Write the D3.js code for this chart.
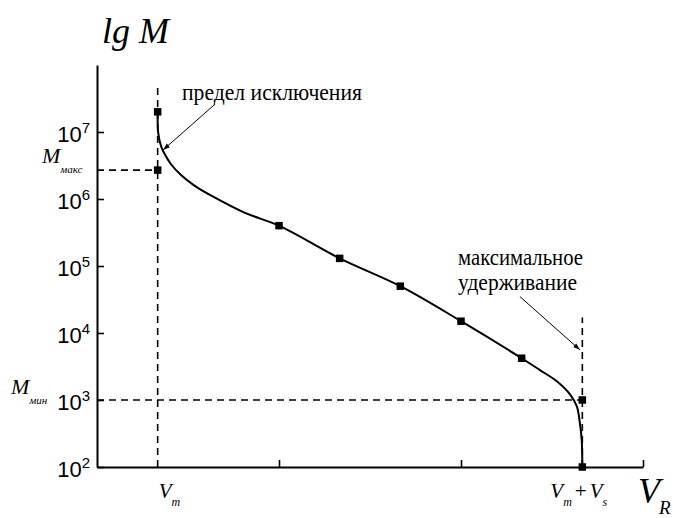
<!DOCTYPE html>
<html>
<head>
<meta charset="utf-8">
<script src="https://cdn.jsdelivr.net/npm/d3@7"></script>
<style>
  html, body { margin: 0; padding: 0; background: #fff; }
  svg { display: block; }
</style>
</head>
<body>
<svg id="chart" width="673" height="518"></svg>
<script>
// Elution volume (relative units) and molecular mass along the calibration curve
const curveV = [1.00, 1.01, 1.06, 1.12, 1.22, 1.38, 1.60, 1.90, 2.44, 3.00, 4.00, 5.00, 6.00, 7.00, 7.30, 7.58, 7.80, 7.91, 7.96, 7.99, 8.00];
const curveM = [2.0e7, 9.5e6, 6.0e6, 4.6e6, 3.3e6, 2.3e6, 1.6e6, 1.1e6, 6.2e5, 4.0e5, 1.3e5, 5.0e4, 1.5e4, 4.2e3, 2.8e3, 1.9e3, 1.2e3, 800, 450, 250, 100];

// Calibration standards (square markers)
const pointV = [1, 1, 3, 4, 5, 6, 7, 8, 8];
const pointM = [2.0e7, 2.7e6, 4.0e5, 1.3e5, 5.0e4, 1.5e4, 4.2e3, 1.0e3, 1.0e2];

// Characteristic values
const Vm = 1, VmVs = 8;
const Mmax = 2.7e6, Mmin = 1.0e3;

// Axis ticks
const yTickExp = [2, 3, 4, 5, 6, 7];
const xTicks = [3, 6, 9];

// Annotation labels and arrow endpoints [V, M]
const noteLabels = ["предел исключения", "максимальное", "удерживание"];
const arrowExclusion = [[1.945, 2.6e7], [1.09, 5.4e6]];
const arrowRetention = [[6.97, 3.5e4], [7.96, 5.6e3]];

const SERIF = "Liberation Serif";
const SANS = "Liberation Sans";

const svg = d3.select("#chart");
const x = d3.scaleLinear().domain([0, 9]).range([97, 643]);
const y = d3.scaleLog().domain([1e2, 1e8]).range([467, 65]);

svg.append("defs").append("marker")
  .attr("id", "arrowhead")
  .attr("viewBox", "0 0 10 10")
  .attr("refX", 10).attr("refY", 5)
  .attr("markerWidth", 7).attr("markerHeight", 7)
  .attr("markerUnits", "userSpaceOnUse")
  .attr("orient", "auto")
  .append("path").attr("d", "M0,1.5 L10,5 L0,8.5 Z").attr("fill", "#000");

// Axes with inward ticks
const yAxis = svg.append("g").attr("transform", `translate(${x(0)},0)`)
  .call(d3.axisLeft(y).tickValues(yTickExp.map(e => Math.pow(10, e)))
    .tickSizeInner(-7).tickSizeOuter(0).tickFormat(() => ""));
const xAxis = svg.append("g").attr("transform", `translate(0,${y(1e2)})`)
  .call(d3.axisBottom(x).tickValues(xTicks)
    .tickSizeInner(-7).tickSizeOuter(0).tickFormat(() => ""));
[yAxis, xAxis].forEach(g => {
  g.select(".domain").attr("stroke", "#000").attr("stroke-width", 2);
  g.selectAll(".tick line").attr("stroke", "#000").attr("stroke-width", 1.6);
});

// Y tick labels: powers of ten
yTickExp.forEach(e => {
  const t = svg.append("text").attr("font-family", SANS)
    .attr("x", x(0) - 7).attr("y", y(Math.pow(10, e)) + 10)
    .attr("text-anchor", "end").attr("font-size", 22).attr("fill", "#000");
  t.append("tspan").text("10");
  t.append("tspan").attr("font-size", 15).attr("dy", -9).text(e);
});

// Dashed reference lines
const dashes = svg.append("g").attr("stroke", "#000").attr("stroke-width", 1.6)
  .attr("stroke-dasharray", "7,5").attr("fill", "none");
dashes.append("line").attr("x1", x(Vm)).attr("x2", x(Vm)).attr("y1", y(1e2)).attr("y2", y(5.4e7));
dashes.append("line").attr("x1", x(VmVs)).attr("x2", x(VmVs)).attr("y1", y(1e2)).attr("y2", y(1.7e4));
dashes.append("line").attr("x1", x(0)).attr("x2", x(Vm)).attr("y1", y(Mmax)).attr("y2", y(Mmax));
dashes.append("line").attr("x1", x(0)).attr("x2", x(VmVs)).attr("y1", y(Mmin)).attr("y2", y(Mmin));

// Calibration curve
const line = d3.line().x(d => x(d[0])).y(d => y(d[1])).curve(d3.curveCatmullRom.alpha(0.5));
svg.append("path").datum(curveV.map((v, i) => [v, curveM[i]]))
  .attr("d", line).attr("fill", "none").attr("stroke", "#000").attr("stroke-width", 2);

// Square markers
const s = 7.5;
svg.append("g").selectAll("rect").data(pointV.map((v, i) => [v, pointM[i]])).join("rect")
  .attr("x", d => x(d[0]) - s / 2).attr("y", d => y(d[1]) - s / 2)
  .attr("width", s).attr("height", s).attr("fill", "#000");

// Annotation arrows
[arrowExclusion, arrowRetention].forEach(a => {
  svg.append("line")
    .attr("x1", x(a[0][0])).attr("y1", y(a[0][1]))
    .attr("x2", x(a[1][0])).attr("y2", y(a[1][1]))
    .attr("stroke", "#000").attr("stroke-width", 1)
    .attr("marker-end", "url(#arrowhead)");
});

// Annotation texts
function note(px, py, str, len) {
  svg.append("text").attr("font-family", SERIF).attr("x", px).attr("y", py)
    .attr("font-size", 23).attr("textLength", len).attr("lengthAdjust", "spacingAndGlyphs")
    .text(str);
}
note(182, 100, noteLabels[0], 180);
note(458, 265, noteLabels[1], 125);
note(458, 290, noteLabels[2], 119);

// Axis titles
svg.append("text").attr("font-family", SERIF).attr("x", 102).attr("y", 43)
  .attr("font-size", 36).attr("font-style", "italic").text("lg M");

svg.append("text").attr("font-family", SERIF).attr("x", 638).attr("y", 503)
  .attr("font-style", "italic").attr("font-size", 36).text("V");
svg.append("text").attr("font-family", SERIF).attr("x", 659).attr("y", 514)
  .attr("font-style", "italic").attr("font-size", 19).text("R");

// Characteristic labels
function subLabel(px, py, main, sub, size, subSize, dy) {
  const t = svg.append("text").attr("font-family", SERIF).attr("x", px).attr("y", py)
    .attr("font-style", "italic").attr("font-size", size);
  t.append("tspan").text(main);
  t.append("tspan").attr("font-size", subSize).attr("dy", dy).text(sub);
  return t;
}
subLabel(x(Vm) + 1, 498, "V", "m", 21, 12, 8);
const vs = svg.append("text").attr("font-family", SERIF).attr("x", x(VmVs) - 32).attr("y", 498)
  .attr("font-size", 21);
vs.append("tspan").attr("font-style", "italic").text("V");
vs.append("tspan").attr("font-style", "italic").attr("font-size", 12).attr("dy", 8).text("m");
vs.append("tspan").attr("dy", -8).attr("dx", 3).text("+");
vs.append("tspan").attr("font-style", "italic").attr("dx", 3).text("V");
vs.append("tspan").attr("font-style", "italic").attr("font-size", 12).attr("dy", 8).text("s");

subLabel(42, y(Mmax) - 7, "M", "макс", 22, 11, 10);
subLabel(11, y(Mmin) - 6, "M", "мин", 22, 11, 10);
</script>
</body>
</html>
